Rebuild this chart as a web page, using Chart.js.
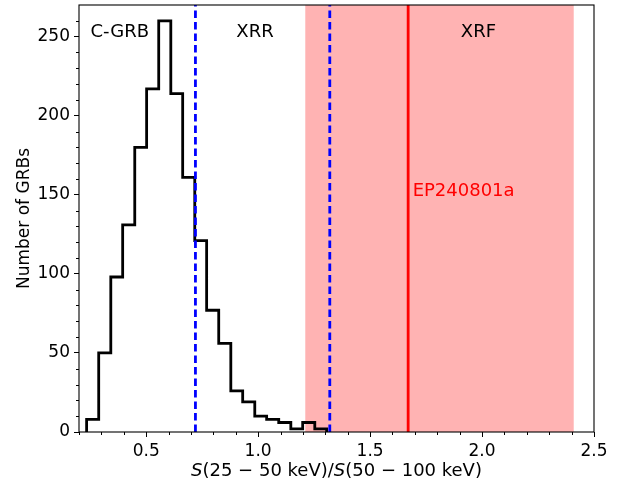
<!DOCTYPE html>
<html>
<head>
<meta charset="utf-8">
<script src="https://cdn.jsdelivr.net/npm/chart.js@4.4.1/dist/chart.umd.min.js"></script>
<style>
  html, body { margin: 0; padding: 0; background: #fff; }
  canvas { display: block; }
</style>
</head>
<body>
<canvas id="hr-hist" width="626" height="485"></canvas>
<script>
// Hardness-ratio histogram with the C-GRB / XRR / XRF split and the EP event marked.

const binEdges = [0.234, 0.288, 0.342, 0.395, 0.449, 0.502, 0.556, 0.610, 0.663, 0.717, 0.770,
                  0.824, 0.878, 0.931, 0.985, 1.038, 1.092, 1.146, 1.199, 1.253, 1.306];
const counts = [8, 50, 98, 131, 180, 217, 260, 214, 161, 121, 77, 56, 26, 19, 10, 8, 6, 2, 6, 2];

const xTicks = [0.5, 1.0, 1.5, 2.0, 2.5];
const xMinor = [0.2, 0.3, 0.4, 0.6, 0.7, 0.8, 0.9, 1.1, 1.2, 1.3, 1.4, 1.6, 1.7, 1.8, 1.9, 2.1, 2.2, 2.3, 2.4];
const yTicks = [0, 50, 100, 150, 200, 250];
const yMinor = [10, 20, 30, 40, 60, 70, 80, 90, 110, 120, 130, 140, 160, 170, 180, 190, 210, 220, 230, 240, 260];

const classCuts = [0.72, 1.32];      // C-GRB | XRR | XRF boundaries
const xrfBand = [1.21, 2.41];
const eventRatio = 1.67;
const eventName = 'EP240801a';
const eventLabelAt = [1.69, 149];

const regionNames = ['C-GRB', 'XRR', 'XRF'];
const regionX = [0.382, 0.986, 1.984];
const regionY = 250;

const X_MIN = 0.2, X_MAX = 2.5, Y_MIN = 0, Y_MAX = 270;
const FONT = "'DejaVu Sans', sans-serif";

// step outline: up from zero at the first edge, across each bin, back down at the last
const histPoints = [{ x: binEdges[0], y: 0 }];
counts.forEach((c, i) => histPoints.push({ x: binEdges[i], y: c }));
histPoints.push({ x: binEdges[binEdges.length - 1], y: 0 });

const vline = (x) => [{ x, y: Y_MIN }, { x, y: Y_MAX }];

const extras = {
  id: 'extras',
  afterDatasetsDraw(chart) {
    const { ctx, chartArea: a, scales: { x, y } } = chart;
    ctx.save();

    // minor ticks
    ctx.strokeStyle = '#000';
    ctx.lineWidth = 1;
    ctx.beginPath();
    xMinor.forEach((v) => {
      const px = Math.round(x.getPixelForValue(v)) + 0.5;
      ctx.moveTo(px, a.bottom); ctx.lineTo(px, a.bottom + 3);
    });
    yMinor.forEach((v) => {
      const py = Math.round(y.getPixelForValue(v)) + 0.5;
      ctx.moveTo(a.left, py); ctx.lineTo(a.left - 3, py);
    });
    ctx.stroke();

    // spines
    ctx.lineWidth = 1.1;
    ctx.strokeRect(a.left, a.top, a.right - a.left, a.bottom - a.top);

    // region labels
    ctx.fillStyle = '#000';
    ctx.font = `18px ${FONT}`;
    ctx.textAlign = 'center';
    ctx.textBaseline = 'alphabetic';
    regionNames.forEach((t, i) => ctx.fillText(t, x.getPixelForValue(regionX[i]), y.getPixelForValue(regionY)));

    ctx.fillStyle = '#ff0000';
    ctx.textAlign = 'left';
    ctx.fillText(eventName, x.getPixelForValue(eventLabelAt[0]), y.getPixelForValue(eventLabelAt[1]));

    // x title with italic S
    const parts = [['S', true], ['(25 − 50 keV)/', false], ['S', true], ['(50 − 100 keV)', false]];
    const fontFor = (it) => `${it ? 'italic ' : ''}18px ${FONT}`;
    let total = 0;
    parts.forEach(([t, it]) => { ctx.font = fontFor(it); total += ctx.measureText(t).width; });
    let cx = (a.left + a.right) / 2 - total / 2;
    ctx.fillStyle = '#000';
    parts.forEach(([t, it]) => {
      ctx.font = fontFor(it);
      ctx.fillText(t, cx, 476);
      cx += ctx.measureText(t).width;
    });

    // y title
    ctx.save();
    ctx.translate(29, (a.top + a.bottom) / 2);
    ctx.rotate(-Math.PI / 2);
    ctx.textAlign = 'center';
    ctx.font = `17px ${FONT}`;
    ctx.fillText('Number of GRBs', 0, 0);
    ctx.restore();

    ctx.restore();
  },
};

new Chart(document.getElementById('hr-hist'), {
  type: 'line',
  data: {
    datasets: [
      {
        data: [{ x: xrfBand[0], y: Y_MAX }, { x: xrfBand[1], y: Y_MAX }],
        fill: 'origin',
        backgroundColor: '#ffb3b3',
        borderWidth: 0,
        pointRadius: 0,
        order: 5,
      },
      {
        data: histPoints,
        stepped: true,
        borderColor: '#000',
        borderWidth: 2.8,
        borderJoinStyle: 'miter',
        pointRadius: 0,
        fill: false,
        order: 3,
      },
      ...classCuts.map((c) => ({
        data: vline(c),
        borderColor: '#0000ff',
        borderWidth: 2.8,
        borderDash: [7.5, 4],
        pointRadius: 0,
        fill: false,
        order: 2,
      })),
      {
        data: vline(eventRatio),
        borderColor: '#ff0000',
        borderWidth: 2.8,
        pointRadius: 0,
        fill: false,
        order: 1,
      },
    ],
  },
  options: {
    responsive: false,
    animation: false,
    devicePixelRatio: 1,
    layout: { padding: { top: 5, right: 32, left: 0, bottom: 0 } },
    plugins: { legend: { display: false }, tooltip: { enabled: false } },
    scales: {
      x: {
        type: 'linear',
        min: X_MIN,
        max: X_MAX,
        afterBuildTicks: (s) => { s.ticks = xTicks.map((v) => ({ value: v })); },
        afterFit: (s) => { s.height = 53; s.paddingLeft = 0; s.paddingRight = 0; },
        grid: { drawOnChartArea: false, tickLength: 5, color: '#000', lineWidth: 1 },
        border: { display: false },
        ticks: {
          color: '#000',
          font: { family: FONT, size: 17 },
          padding: 4,
          maxRotation: 0,
          autoSkip: false,
          callback: (v) => v.toFixed(1),
        },
      },
      y: {
        type: 'linear',
        min: Y_MIN,
        max: Y_MAX,
        afterBuildTicks: (s) => { s.ticks = yTicks.map((v) => ({ value: v })); },
        afterFit: (s) => { s.width = 79; s.paddingTop = 0; s.paddingBottom = 0; },
        grid: { drawOnChartArea: false, tickLength: 5, color: '#000', lineWidth: 1 },
        border: { display: false },
        ticks: {
          color: '#000',
          font: { family: FONT, size: 17 },
          padding: 4,
          autoSkip: false,
        },
      },
    },
  },
  plugins: [extras],
});
</script>
</body>
</html>
